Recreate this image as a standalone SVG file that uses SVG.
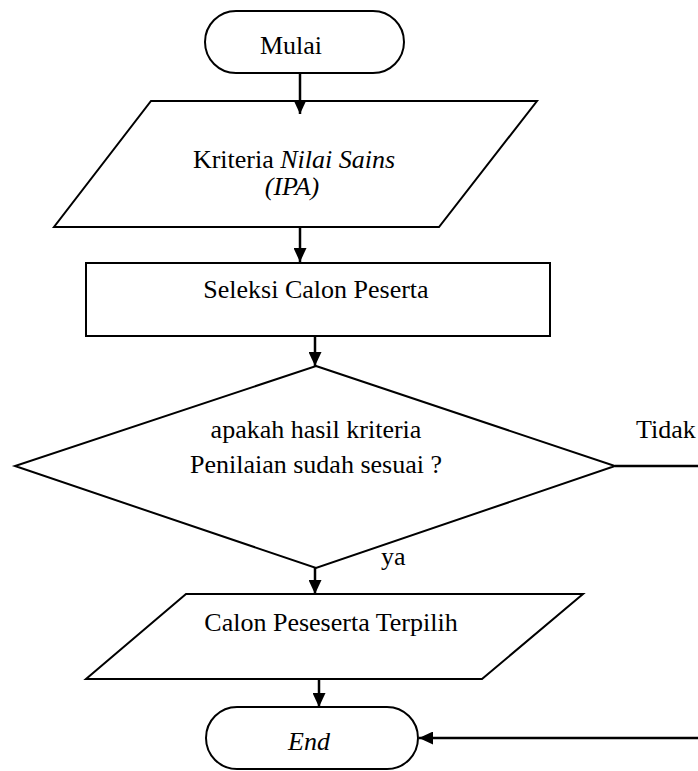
<svg xmlns="http://www.w3.org/2000/svg" width="698" height="771" viewBox="0 0 698 771">
  <defs>
    <marker id="arrow" viewBox="0 0 14 13" markerWidth="14" markerHeight="13" refX="14" refY="6.5" orient="auto" markerUnits="userSpaceOnUse">
      <path d="M0,0 L14,6.5 L0,13 z" fill="#000"/>
    </marker>
    <style>
      .shape { fill: #fff; stroke: #000; stroke-width: 2; }
      .link { fill: none; stroke: #000; stroke-width: 2.5; marker-end: url(#arrow); }
      text { font-family: "Liberation Serif", "Times New Roman", serif; font-size: 26px; fill: #000; }
      .mid { text-anchor: middle; }
      .it { font-style: italic; }
    </style>
  </defs>
  <rect width="698" height="771" fill="#fff"/>

  <g id="start">
    <rect class="shape" x="205" y="11" width="199" height="62" rx="31" ry="31"/>
    <text class="mid" x="291" y="54">Mulai</text>
  </g>

  <g id="criteria">
    <polygon class="shape" points="151,101 537,101 439,227 54,227"/>
    <text class="mid" x="294" y="168">Kriteria <tspan class="it">Nilai Sains</tspan></text>
    <text class="mid it" x="292" y="195">(IPA)</text>
  </g>

  <g id="selection">
    <rect class="shape" x="86" y="263" width="464" height="73"/>
    <text class="mid" x="316" y="298">Seleksi Calon Peserta</text>
  </g>

  <g id="decision">
    <polygon class="shape" points="316,366 615,466 316,568 15,466"/>
    <text class="mid" x="316" y="438">apakah hasil kriteria</text>
    <text class="mid" x="316" y="473">Penilaian sudah sesuai ?</text>
  </g>

  <g id="labels">
    <text x="636" y="438">Tidak</text>
    <text x="381" y="565">ya</text>
  </g>

  <g id="selected">
    <polygon class="shape" points="186,594 583,594 482,679 86,679"/>
    <text class="mid" x="331" y="631">Calon Peseserta Terpilih</text>
  </g>

  <g id="end">
    <rect class="shape" x="206" y="707" width="212" height="62" rx="31" ry="31"/>
    <text class="mid it" x="309" y="750">End</text>
  </g>

  <!-- connectors, drawn last so the first arrowhead sits on top of the input box -->
  <g id="connectors">
    <path class="link" d="M300,73 V114"/>
    <path class="link" d="M300,227 V262"/>
    <path class="link" d="M315,336 V366"/>
    <path class="link" d="M315,568 V594"/>
    <path class="link" d="M319,679 V707"/>
    <path class="link" d="M615,466 H700 V738 H419"/>
  </g>
</svg>
